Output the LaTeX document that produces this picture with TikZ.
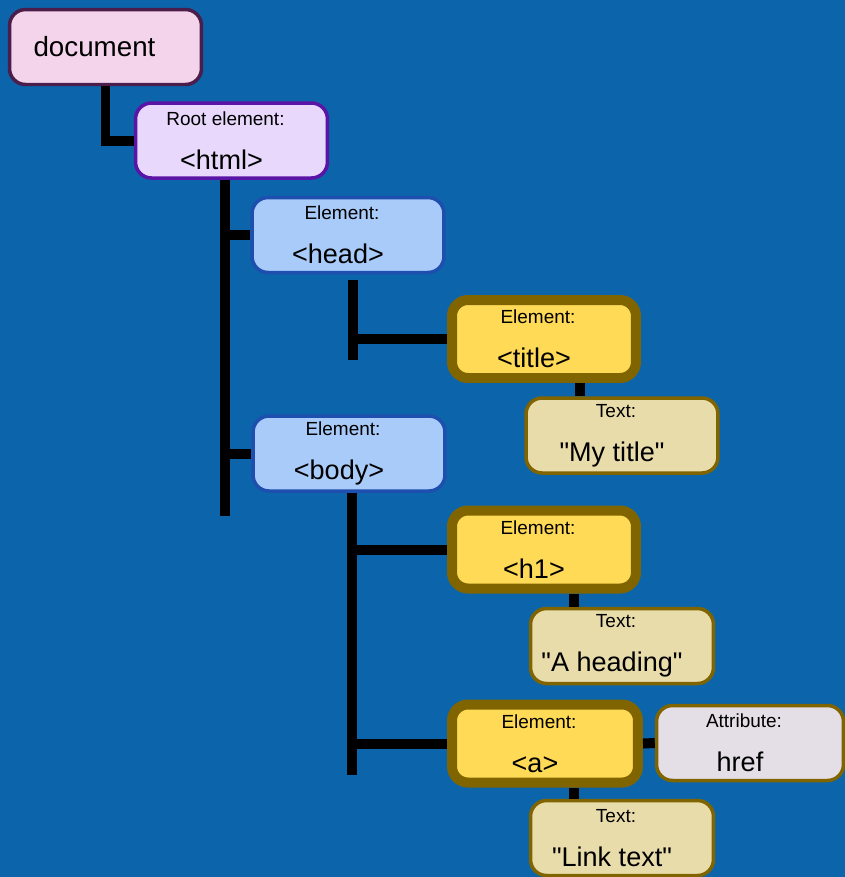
\documentclass[tikz,border=0pt]{standalone}
\usepackage{fontspec}
\setmainfont{Liberation Sans}
\usepackage{xcolor}
\usetikzlibrary{positioning}

\definecolor{bgblue}{HTML}{0C64AA}
\definecolor{docfill}{HTML}{F4D4EA}
\definecolor{docline}{HTML}{4B1D4B}
\definecolor{rootfill}{HTML}{E8D8FB}
\definecolor{rootline}{HTML}{5A14A6}
\definecolor{elfill}{HTML}{A9CBF9}
\definecolor{elline}{HTML}{1E4FAE}
\definecolor{tagfill}{HTML}{FFDA57}
\definecolor{tagline}{HTML}{806400}
\definecolor{txtfill}{HTML}{E9DCAB}
\definecolor{attrfill}{HTML}{E4DEE6}

% small caption line over a larger value line, set a little left of centre
\newcommand{\twolines}[2]{{\fontsize{10.8}{13}\selectfont #1\hspace*{0.24cm}}\\[13pt]{\fontsize{15.4}{18}\selectfont #2\hspace*{0.4cm}}}
\newcommand{\qt}[1]{\textquotedbl#1\textquotedbl}

\begin{document}
\begin{tikzpicture}[
  x=0.02cm,
  y=-0.02cm,
  box/.style={
    rectangle,
    draw,
    rounded corners=0.32cm,
    align=center,
    line width=0.07cm,
    inner sep=0pt,
    minimum width=3.84cm,
    minimum height=1.5cm
  },
  thickbox/.style={
    box,
    line width=0.2cm,
    minimum width=3.68cm,
    minimum height=1.56cm
  },
  docbox/.style={box, fill=docfill, draw=docline},
  rootbox/.style={box, fill=rootfill, draw=rootline},
  elbox/.style={box, fill=elfill, draw=elline},
  tagbox/.style={thickbox, fill=tagfill, draw=tagline},
  txtbox/.style={box, fill=txtfill, draw=tagline},
  attrbox/.style={box, fill=attrfill, draw=tagline},
  link/.style={line width=0.2cm, black}
]

\fill[bgblue] (0,0) rectangle (845,877);
\useasboundingbox (0,0) rectangle (845,877);

\node[docbox] (doc) at (105.5,47)
{\fontsize{15.8}{18}\selectfont document\hspace*{0.44cm}};
\node[rootbox] (html) at (231.5,140.5) {\twolines{Root element:}{<html>}};
\node[elbox] (head) at (348,235) {\twolines{Element:}{<head>}};
\node[elbox] (body) at (349,453.5) {\twolines{Element:}{<body>}};
\node[tagbox] (title) at (544,339) {\twolines{Element:}{<title>}};
\node[txtbox] (mytitle) at (622,435.5) {\twolines{Text:}{\qt{My title}}};
\node[tagbox] (h1) at (544,549.5) {\twolines{Element:}{<h1>}};
\node[txtbox, minimum width=3.66cm] (heading) at (622,646)
{\twolines{Text:}{\qt{A heading}}};
\node[tagbox, minimum width=3.72cm] (a) at (545,743.5) {\twolines{Element:}{<a>}};
\node[attrbox, minimum width=3.74cm] (href) at (750,743)
{\twolines{Attribute:}{href}};
\node[txtbox, minimum width=3.66cm] (linktext) at (622,838)
{\twolines{Text:}{\qt{Link text}}};

% trunks
\coordinate (htmlbot) at (225,516);
\coordinate (headtop) at (353,280);
\coordinate (headbot) at (353,360);
\coordinate (bodybot) at (352,775);
\coordinate (tx) at (580,0);
\coordinate (hx) at (574,0);

\draw[link] (doc.south) |- (html.west);
\draw[link] (htmlbot |- html.south) -- (htmlbot);
\draw[link] (htmlbot |- head.west) -- (head.west);
\draw[link] (htmlbot |- body.west) -- (body.west);
\draw[link] (headtop) -- (headbot);
\draw[link] (headtop |- title.west) -- (title.west);
\draw[link] (title.south -| tx) -- (mytitle.north -| tx);
\draw[link] (bodybot |- body.south) -- (bodybot);
\draw[link] (bodybot |- h1.west) -- (h1.west);
\draw[link] (bodybot |- a.west) -- (a.west);
\draw[link] (h1.south -| hx) -- (heading.north -| hx);
\draw[link] (a.east) -- (href.west);
\draw[link] (a.south -| hx) -- (linktext.north -| hx);

\end{tikzpicture}
\end{document}
